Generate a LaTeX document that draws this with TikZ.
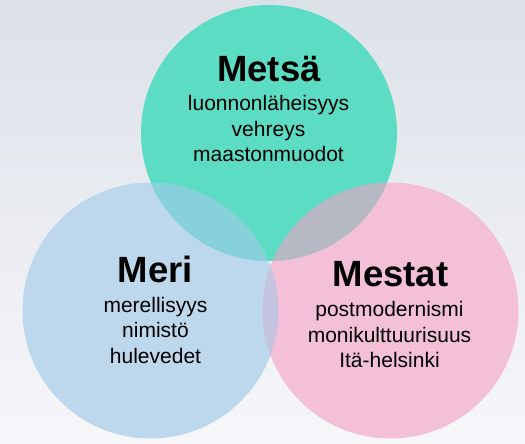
\documentclass[tikz,border=0pt]{standalone}
\usepackage{fontspec}
\setmainfont{Liberation Sans}
\definecolor{bgtop}{HTML}{DCE1E8}
\definecolor{bgbot}{HTML}{F7F7FA}
\definecolor{cgreen}{HTML}{5CDCC2}
\definecolor{cblue}{HTML}{BDD7EC}
\definecolor{cpink}{HTML}{F3C0D8}
\definecolor{cgb}{HTML}{86D1DA}
\definecolor{cgp}{HTML}{B6B8C4}
\definecolor{cbp}{HTML}{C4C4E0}
\begin{document}
\begin{tikzpicture}[x=1pt,y=1pt,
  disc/.style={circle, inner sep=0pt, minimum size=256pt, draw=none},
  title/.style={anchor=base, inner sep=0pt, font=\fontsize{36.5}{40}\selectfont\bfseries},
  item/.style={anchor=base, inner sep=0pt, font=\fontsize{21}{25}\selectfont}]
\useasboundingbox (0,0) rectangle (525,444);
\shade[top color=bgtop, bottom color=bgbot] (0,0) rectangle (525,444);
% circles
\node[disc, fill=cblue] (meri) at (150.5,133.5) {};
\node[disc, fill=cpink] (mestat) at (390.5,133.5) {};
\node[disc, fill=cgreen] (metsa) at (269,311) {};
% overlaps
\begin{scope}
  \clip (150.5,133.5) circle (128);
  \fill[cbp] (390.5,133.5) circle (128);
\end{scope}
\begin{scope}
  \clip (269,311) circle (128);
  \fill[cgb] (150.5,133.5) circle (128);
\end{scope}
\begin{scope}
  \clip (269,311) circle (128);
  \fill[cgp] (390.5,133.5) circle (128);
\end{scope}
% texts
\node[title] (t1) at (269,362) {Metsä};
\node[item] (a1) at (268.5,333.3) {luonnonläheisyys};
\node[item] (a2) at (268.5,307.5) {vehreys};
\node[item] (a3) at (268.5,282.3) {maastonmuodot};
\node[title] (t2) at (155.5,161) {Meri};
\node[item] (b1) at (155.5,131.3) {merellisyys};
\node[item] (b2) at (155.5,106) {nimistö};
\node[item] (b3) at (155.5,80.7) {hulevedet};
\node[title] (t3) at (390.5,157) {Mestat};
\node[item] (c1) at (389.5,127.5) {postmodernismi};
\node[item] (c2) at (389.5,101.7) {monikulttuurisuus};
\node[item] (c3) at (389.5,76.3) {Itä-helsinki};
\end{tikzpicture}
\end{document}
